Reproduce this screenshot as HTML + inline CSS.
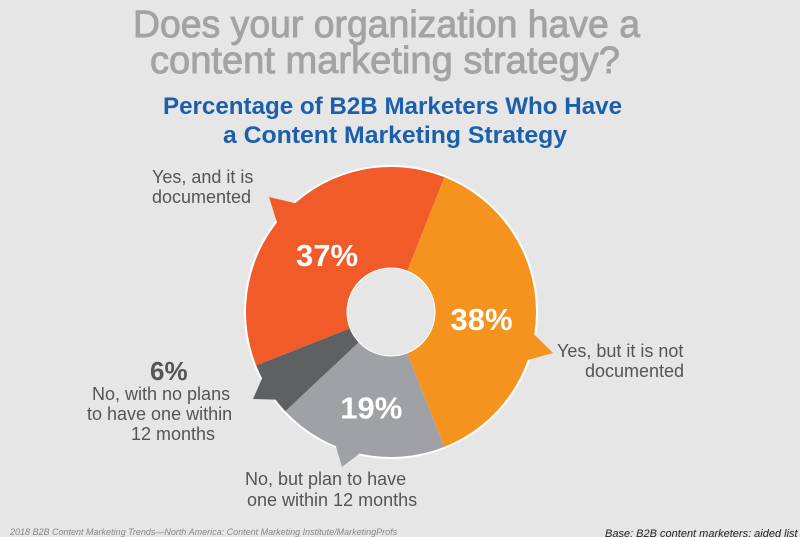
<!DOCTYPE html>
<html><head><meta charset="utf-8"><style>
html,body{margin:0;padding:0;background:#e6e6e6}
svg{display:block}
text{font-family:"Liberation Sans",sans-serif}
</style></head><body>
<svg id="chart" width="800" height="537" viewBox="0 0 800 537">
<rect width="800" height="537" fill="#e6e6e6"/>
<text x="133" y="37" font-size="38" fill="#a3a3a3" stroke="#a3a3a3" stroke-width="0.9" textLength="507" lengthAdjust="spacingAndGlyphs">Does your organization have a</text>
<text x="150" y="73" font-size="38" fill="#a3a3a3" stroke="#a3a3a3" stroke-width="0.9" textLength="470" lengthAdjust="spacingAndGlyphs">content marketing strategy?</text>
<text x="163" y="114" font-size="24" font-weight="bold" fill="#1c5faa" textLength="459" lengthAdjust="spacingAndGlyphs">Percentage of B2B Marketers Who Have</text>
<text x="223" y="143" font-size="24" font-weight="bold" fill="#1c5faa" textLength="344" lengthAdjust="spacingAndGlyphs">a Content Marketing Strategy</text>
<g id="donut"></g>
<g id="labels" font-size="18" fill="#555">
<text x="152" y="183">Yes, and it is</text>
<text x="152" y="203">documented</text>
<text x="557" y="357">Yes, but it is not</text>
<text x="585" y="377">documented</text>
<text x="245" y="485">No, but plan to have</text>
<text x="247" y="506">one within 12 months</text>
<text x="150" y="380" font-size="26" font-weight="bold" fill="#555">6%</text>
<text x="92" y="400">No, with no plans</text>
<text x="87" y="420">to have one within</text>
<text x="131" y="440">12 months</text>
</g>
<text x="10" y="535" font-size="9" font-style="italic" fill="#888">2018 B2B Content Marketing Trends—North America: Content Marketing Institute/MarketingProfs</text>
<text x="605" y="537" font-size="11" font-style="italic" fill="#222">Base: B2B content marketers; aided list</text>
</svg>
<script>
const categories = ["Yes, but it is not documented","No, but plan to have one within 12 months","No, with no plans","Yes, and it is documented"];
const values = [38,19,6,37];
const valueLabels = ["38%","19%","","37%"];
const colors = ["#f4931e","#a0a1a4","#5f6062","#f15a29"];
const pointerTips = [[553,353],[342,467],[253,399],[269,197]];
const startAngle = 21.6;
const cx=391, cy=312, R=145, r=44;
const NS="http://www.w3.org/2000/svg";
const g=document.getElementById('donut');
const total=values.reduce((a,b)=>a+b,0);
function pt(deg,rad){const a=(deg-90)*Math.PI/180;return [cx+rad*Math.cos(a),cy+rad*Math.sin(a)];}
function ang(v){return v/total*360;}
const bg=document.createElementNS(NS,'circle');
bg.setAttribute('cx',cx);bg.setAttribute('cy',cy);bg.setAttribute('r',R+2);bg.setAttribute('fill','#fff');


g.appendChild(bg);
let a0=startAngle;
values.forEach((v,i)=>{
  const a1=a0+ang(v);
  const p1=pt(a0,R),p2=pt(a1,R);
  const large=(a1-a0)>180?1:0;
  const mid=(a0+a1)/2;
  const tip=pointerTips[i];
  let bestA=mid, bd=1e9;
  for(let t=a0+3;t<a1-3;t+=0.5){const q=pt(t,R);const d=Math.hypot(q[0]-tip[0],q[1]-tip[1]);if(d<bd){bd=d;bestA=t;}}
  const b1=pt(bestA-7,R-6),b2=pt(bestA+7,R-6);
  const tri=document.createElementNS(NS,'path');
  tri.setAttribute('d',`M${b1[0]},${b1[1]}L${tip[0]},${tip[1]}L${b2[0]},${b2[1]}Z`);
  tri.setAttribute('fill',colors[i]);
  
  
  g.appendChild(tri);
  const path=document.createElementNS(NS,'path');
  path.setAttribute('d',`M${cx},${cy}L${p1[0]},${p1[1]}A${R},${R} 0 ${large} 1 ${p2[0]},${p2[1]}Z`);
  path.setAttribute('fill',colors[i]);
  
  
  g.appendChild(path);
  if(valueLabels[i]){
    const lp=pt(mid,(R+r)/2-4);
    const t=document.createElementNS(NS,'text');
    t.setAttribute('x',lp[0]);t.setAttribute('y',lp[1]+18);
    t.setAttribute('text-anchor','middle');t.setAttribute('font-size','31');
    t.setAttribute('font-weight','bold');t.setAttribute('fill','#fff');
    t.textContent=valueLabels[i];
    
    
    g.appendChild(t);
  }
  a0=a1;
});
const hole=document.createElementNS(NS,'circle');
hole.setAttribute('cx',cx);hole.setAttribute('cy',cy);hole.setAttribute('r',r);hole.setAttribute('fill','#e6e6e6');hole.setAttribute('stroke','#fff');hole.setAttribute('stroke-width','1');


g.appendChild(hole);
</script>
</body></html>
